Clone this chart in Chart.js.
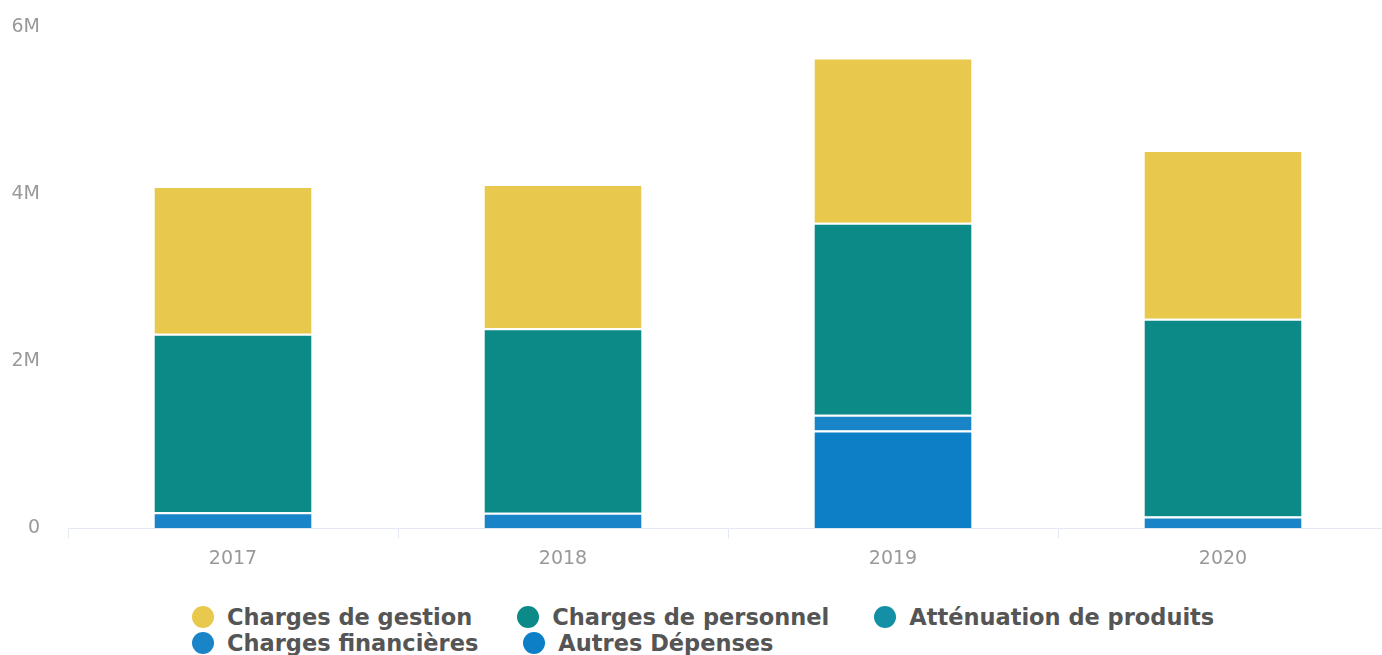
<!DOCTYPE html>
<html>
<head>
<meta charset="utf-8">
<script src="https://cdn.jsdelivr.net/npm/chart.js@4.4.1/dist/chart.umd.min.js"></script>
<style>
  html, body { margin: 0; padding: 0; background: #fff; overflow: hidden; }
  #wrap { position: relative; width: 1388px; height: 655px; }
  #box { position: absolute; left: 0; top: -12px; width: 1388px; height: 591px; }
  #legend { position: absolute; left: 192px; top: 604px; width: 1100px; display: flex; flex-wrap: wrap;
    font-family: "DejaVu Sans", sans-serif; font-weight: bold; font-size: 22.5px; color: #555; }
  .item { display: flex; align-items: center; height: 26px; margin-right: 45px; }
  .dot { width: 22px; height: 22px; border-radius: 50%; margin-right: 13px; }
</style>
</head>
<body>
<div id="wrap">
  <div id="box"><canvas id="spend-chart"></canvas></div>
  <div id="legend"></div>
</div>
<script>
// Data
var years = ['2017', '2018', '2019', '2020'];
var chargesGestion = [1770000, 1730000, 1980000, 2020000];
var chargesPersonnel = [2140000, 2210000, 2300000, 2370000];
var attenuationProduits = [0, 0, 0, 0];
var chargesFinancieres = [190000, 185000, 190000, 140000];
var autresDepenses = [0, 0, 1170000, 0];
var yTicks = [0, 2000000, 4000000, 6000000];

var legendOrder = ['Charges de gestion', 'Charges de personnel', 'Atténuation de produits', 'Charges financières', 'Autres Dépenses'];

function bar(label, values, color) {
  return {
    label: label,
    data: values,
    backgroundColor: color,
    borderColor: '#ffffff',
    borderWidth: { top: 2, left: 0, right: 0, bottom: 0 },
    borderSkipped: false,
    barPercentage: 0.476,
    categoryPercentage: 1
  };
}

// stacked bottom -> top
var datasets = [
  bar('Autres Dépenses', autresDepenses, '#0c7fc6'),
  bar('Charges financières', chargesFinancieres, '#1a84c9'),
  bar('Atténuation de produits', attenuationProduits, '#138fa6'),
  bar('Charges de personnel', chargesPersonnel, '#0b8a88'),
  bar('Charges de gestion', chargesGestion, '#e8c94e')
];

var ctx = document.getElementById('spend-chart').getContext('2d');
var spendChart = new Chart(ctx, {
  type: 'bar',
  data: { labels: years, datasets: datasets },
  options: {
    responsive: true,
    maintainAspectRatio: false,
    animation: false,
    layout: { padding: { top: 4, left: 0, right: 0, bottom: 0 } },
    scales: {
      x: {
        stacked: true,
        border: { display: true, color: '#e3e8f4' },
        grid: { display: true, drawOnChartArea: false, drawTicks: true, tickLength: 10, color: '#e3e8f4', offset: true },
        ticks: { color: '#999', font: { family: 'DejaVu Sans', size: 19 }, padding: 9 }
      },
      y: {
        stacked: true,
        min: 0,
        max: 6000000,
        afterBuildTicks: function (scale) {
          scale.ticks = yTicks.map(function (v) { return { value: v }; });
        },
        afterFit: function (scale) { scale.width = 68; },
        border: { display: false },
        grid: { display: false, drawTicks: false },
        ticks: {
          color: '#999',
          padding: 28,
          font: { family: 'DejaVu Sans', size: 19 },
          callback: function (v) { return v === 0 ? '0' : (v / 1000000) + 'M'; }
        }
      }
    },
    plugins: {
      legend: { display: false },
      tooltip: { enabled: false }
    }
  }
});

// HTML legend built from the chart datasets
var legendEl = document.getElementById('legend');
legendOrder.forEach(function (name) {
  var ds = spendChart.data.datasets.find(function (d) { return d.label === name; });
  var item = document.createElement('div');
  item.className = 'item';
  var dot = document.createElement('span');
  dot.className = 'dot';
  dot.style.background = ds.backgroundColor;
  var txt = document.createElement('span');
  txt.textContent = name;
  item.appendChild(dot);
  item.appendChild(txt);
  legendEl.appendChild(item);
});
</script>
</body>
</html>
